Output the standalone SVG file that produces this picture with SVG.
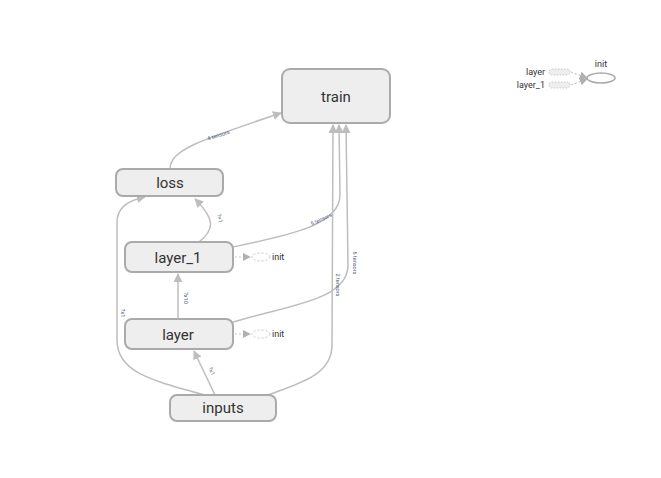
<svg xmlns="http://www.w3.org/2000/svg" width="661" height="478" viewBox="0 0 661 478">
<style>
.node rect{fill:#eeeeee;stroke:#aaaaaa;stroke-width:2}
.lbl{font-family:Roboto,"Liberation Sans",sans-serif;fill:#333;text-anchor:middle;dominant-baseline:central}
.e{fill:none;stroke:#bdbdbd;stroke-width:1.5}
.d{fill:none;stroke:#c8c8c8;stroke-width:1.2;stroke-dasharray:2,2}
.el{font-family:Roboto,"Liberation Sans",sans-serif;font-size:5.5px;fill:#4a5a80;text-anchor:middle}
.small{font-family:Roboto,"Liberation Sans",sans-serif;font-size:9px;fill:#333;dominant-baseline:central}
</style>
<defs>
<marker id="ad" viewBox="0 0 10 10" refX="9" refY="5" markerWidth="8" markerHeight="8" orient="auto" markerUnits="userSpaceOnUse">
<path d="M0,0 L10,5 L0,10 z" fill="#b0b0b0"/>
</marker>
<marker id="a2" viewBox="0 0 10 10" refX="9" refY="5" markerWidth="9" markerHeight="9" orient="auto" markerUnits="userSpaceOnUse">
<path d="M0,0 L10,5 L0,10 z" fill="#bdbdbd"/>
</marker>
</defs>
<g id="connectors">
<path class="e" marker-end="url(#a2)" d="M170,169 C170,150 200,140 281,113"/>
<text class="el" transform="translate(219,137) rotate(-18)">4 tensors</text>
<path class="e" marker-end="url(#a2)" d="M199,242 C214,230 216,220 195,199"/>
<text class="el" transform="translate(218,219) rotate(75)">?×1</text>
<path class="e" marker-end="url(#a2)" d="M233,247 C290,235 340,225 340,195 L339,125"/>
<text class="el" transform="translate(322,221) rotate(-25)">5 tensors</text>
<path class="e" marker-end="url(#a2)" d="M233,322 C290,305 348,300 348,265 L346,125"/>
<text class="el" transform="translate(353,263) rotate(90)">6 tensors</text>
<path class="e" marker-end="url(#a2)" d="M268,395 C300,383 332,375 332,345 L333,125"/>
<text class="el" transform="translate(336,285) rotate(90)">2 tensors</text>
<path class="e" marker-end="url(#a2)" d="M205,395 C150,380 117,372 117,340 L117,222 C117,207 130,200 145,197"/>
<text class="el" transform="translate(121,313) rotate(90)">?x1</text>
<path class="e" marker-end="url(#a2)" d="M215,395 L194,351"/>
<text class="el" transform="translate(210,372) rotate(65)">?x1</text>
<path class="e" marker-end="url(#a2)" d="M178,319 L178,274"/>
<text class="el" transform="translate(184,298) rotate(90)">?x10</text>
<path class="d" marker-end="url(#ad)" d="M235,257 L250,257"/>
<path class="d" marker-end="url(#ad)" d="M235,334 L250,334"/>
<path class="d" marker-end="url(#ad)" d="M571,72 L587,78"/>
<path class="d" marker-end="url(#ad)" d="M571,85 L587,79"/>
</g>
<g id="train" class="node"><rect x="282" y="69" width="108" height="54" rx="8"/><text class="lbl" x="336" y="97" font-size="15">train</text></g>
<g id="loss" class="node"><rect x="116" y="169" width="107" height="27" rx="7"/><text class="lbl" x="170" y="183" font-size="15">loss</text></g>
<g id="layer_1" class="node"><rect x="125" y="242" width="108" height="30" rx="7"/><text class="lbl" x="178" y="258" font-size="15">layer_1</text></g>
<g id="layer" class="node"><rect x="125" y="319" width="108" height="30" rx="7"/><text class="lbl" x="178" y="335" font-size="15">layer</text></g>
<g id="inputs" class="node"><rect x="170" y="395" width="106" height="26" rx="7"/><text class="lbl" x="223" y="408" font-size="15">inputs</text></g>
<g id="layer_1_init"><ellipse cx="261" cy="257" rx="9" ry="4" fill="none" stroke="#c8c8c8" stroke-dasharray="2,2"/><text class="small" x="272" y="257">init</text></g>
<g id="layer_init"><ellipse cx="261" cy="334" rx="9" ry="4" fill="none" stroke="#c8c8c8" stroke-dasharray="2,2"/><text class="small" x="272" y="334">init</text></g>
<g id="init"><ellipse cx="601" cy="78" rx="14" ry="5" fill="none" stroke="#aaaaaa" stroke-width="1.5"/><text class="small" x="601" y="64" text-anchor="middle">init</text></g>
<g id="init_layer"><rect x="549" y="69" width="21" height="6" rx="3" fill="#eeeeee" stroke="#c8c8c8" stroke-dasharray="1.5,1.5"/><text class="small" x="545" y="72" text-anchor="end" font-size="8">layer</text></g>
<g id="init_layer_1"><rect x="549" y="82" width="21" height="6" rx="3" fill="#eeeeee" stroke="#c8c8c8" stroke-dasharray="1.5,1.5"/><text class="small" x="545" y="85" text-anchor="end" font-size="8">layer_1</text></g>
</svg>
